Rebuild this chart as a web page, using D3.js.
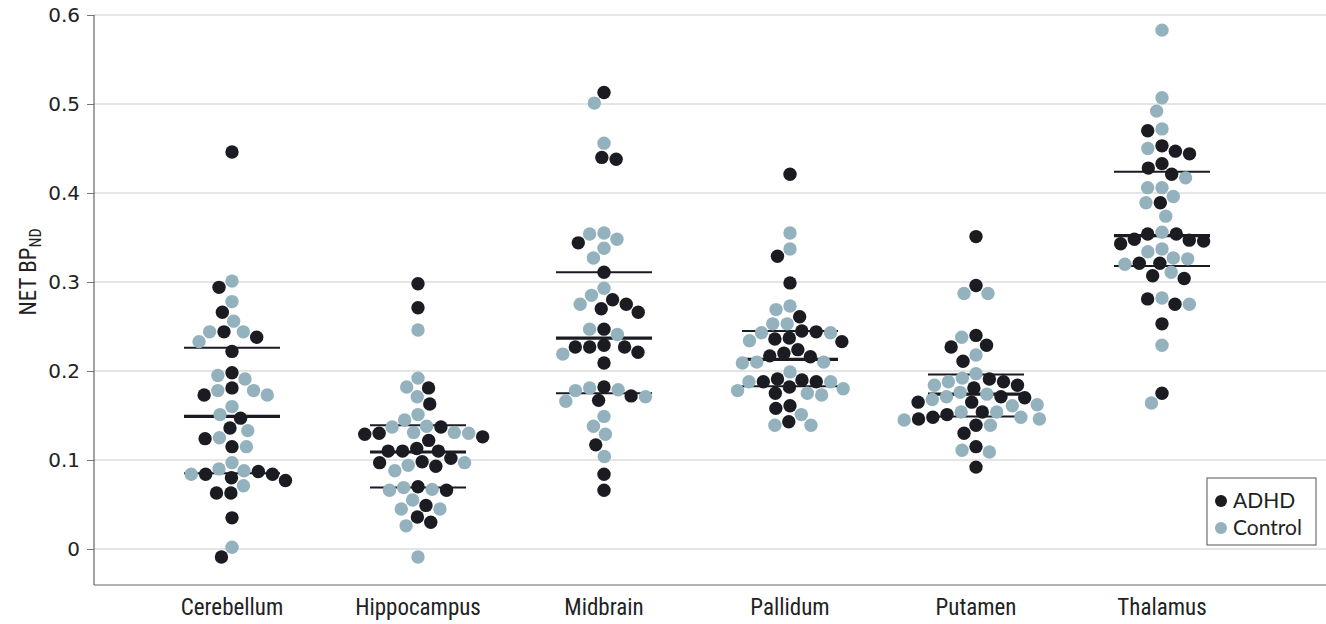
<!DOCTYPE html>
<html>
<head>
<meta charset="utf-8">
<script src="https://cdn.jsdelivr.net/npm/d3@7"></script>
<style>
  html, body { margin: 0; padding: 0; background: #fff; }
  svg { display: block; }
</style>
</head>
<body>
<svg id="chart" width="1326" height="624"></svg>
<script>
// ---------- DATA ----------
const categories = ["Cerebellum", "Hippocampus", "Midbrain", "Pallidum", "Putamen", "Thalamus"];
const groups = ["ADHD", "Control"];
const yTicks = [0, 0.1, 0.2, 0.3, 0.4, 0.5, 0.6];

const cerebellumADHD = [0.446, 0.294, 0.266, 0.238, 0.244, 0.222, 0.198, 0.173, 0.181, 0.147, 0.136, 0.124, 0.115, 0.087, 0.084, 0.084, 0.077, 0.080, 0.063, 0.063, 0.035, -0.009];
const cerebellumControl = [0.301, 0.278, 0.256, 0.244, 0.244, 0.233, 0.191, 0.195, 0.178, 0.178, 0.173, 0.160, 0.151, 0.133, 0.125, 0.115, 0.097, 0.090, 0.084, 0.088, 0.071, 0.002];

const hippocampusADHD = [0.298, 0.271, 0.181, 0.163, 0.137, 0.122, 0.129, 0.126, 0.130, 0.110, 0.110, 0.110, 0.113, 0.102, 0.098, 0.093, 0.097, 0.070, 0.066, 0.049, 0.036, 0.030];
const hippocampusControl = [0.246, 0.192, 0.182, 0.171, 0.151, 0.145, 0.131, 0.137, 0.130, 0.131, 0.138, 0.097, 0.094, 0.088, 0.066, 0.067, 0.069, 0.055, 0.045, 0.045, 0.026, -0.009];

const midbrainADHD = [0.513, 0.438, 0.440, 0.344, 0.311, 0.280, 0.275, 0.266, 0.270, 0.247, 0.227, 0.221, 0.227, 0.227, 0.229, 0.209, 0.172, 0.182, 0.167, 0.117, 0.084, 0.066];
const midbrainControl = [0.501, 0.456, 0.355, 0.348, 0.354, 0.338, 0.327, 0.293, 0.285, 0.275, 0.241, 0.247, 0.219, 0.181, 0.171, 0.166, 0.178, 0.179, 0.149, 0.138, 0.129, 0.104];

const pallidumADHD = [0.421, 0.329, 0.299, 0.261, 0.245, 0.237, 0.233, 0.236, 0.244, 0.224, 0.220, 0.217, 0.216, 0.182, 0.191, 0.190, 0.188, 0.188, 0.175, 0.161, 0.158, 0.143];
const pallidumControl = [0.355, 0.337, 0.273, 0.269, 0.253, 0.253, 0.243, 0.234, 0.243, 0.210, 0.210, 0.209, 0.199, 0.188, 0.188, 0.178, 0.173, 0.175, 0.180, 0.151, 0.139, 0.139];

const putamenADHD = [0.351, 0.296, 0.240, 0.229, 0.227, 0.211, 0.188, 0.191, 0.184, 0.181, 0.165, 0.165, 0.170, 0.171, 0.154, 0.151, 0.146, 0.148, 0.139, 0.130, 0.115, 0.092];
const putamenControl = [0.287, 0.287, 0.238, 0.218, 0.197, 0.192, 0.188, 0.184, 0.176, 0.174, 0.171, 0.168, 0.161, 0.162, 0.148, 0.145, 0.146, 0.154, 0.154, 0.139, 0.111, 0.109];

const thalamusADHD = [0.470, 0.453, 0.447, 0.444, 0.433, 0.428, 0.421, 0.389, 0.354, 0.347, 0.343, 0.354, 0.346, 0.348, 0.321, 0.321, 0.304, 0.307, 0.275, 0.281, 0.253, 0.175];
const thalamusControl = [0.583, 0.507, 0.492, 0.472, 0.450, 0.417, 0.406, 0.406, 0.396, 0.389, 0.374, 0.356, 0.334, 0.337, 0.327, 0.320, 0.326, 0.311, 0.282, 0.275, 0.229, 0.164];

// summary lines (upper quartile, median, lower quartile)
const upperValues  = [0.226, 0.139, 0.311, 0.245, 0.196, 0.424];
const medianValues = [0.149, 0.109, 0.237, 0.213, 0.174, 0.352];
const lowerValues  = [0.085, 0.069, 0.175, 0.183, 0.149, 0.318];

const adhdByCategory = [cerebellumADHD, hippocampusADHD, midbrainADHD, pallidumADHD, putamenADHD, thalamusADHD];
const controlByCategory = [cerebellumControl, hippocampusControl, midbrainControl, pallidumControl, putamenControl, thalamusControl];

// ---------- DRAWING ----------
(function () {
  const colors = { ADHD: "#1b1b22", Control: "#93b2bd" };
  const condensed = "Liberation Sans Narrow, Roboto Condensed, Arial Narrow, sans-serif";
  const svg = d3.select("#chart");
  const W = 1326;
  const mLeft = 94, mTop = 15, mBottom = 585;
  const r = 6.7, spacing = 14.4;

  const y = d3.scaleLinear().domain([-0.04045, 0.6]).range([mBottom, mTop]);
  const x = d3.scalePoint().domain(categories).range([232, 1162]);

  // grid lines
  svg.append("g").selectAll("line").data(yTicks).join("line")
    .attr("x1", mLeft).attr("x2", W)
    .attr("y1", d => y(d)).attr("y2", d => y(d))
    .attr("stroke", "#dcdcdc").attr("stroke-width", 1.5);

  // y axis
  const yAxis = d3.axisLeft(y).tickValues(yTicks).tickSize(7).tickPadding(7)
    .tickFormat(d => d === 0 ? "0" : d3.format(".1f")(d));
  const gy = svg.append("g").attr("transform", `translate(${mLeft},0)`).call(yAxis);
  gy.select(".domain").remove();
  gy.selectAll(".tick line").attr("stroke", "#777").attr("stroke-width", 1);
  gy.selectAll(".tick text").attr("font-family", "DejaVu Sans, sans-serif").attr("font-size", 20).attr("fill", "#222");
  svg.append("line").attr("x1", mLeft).attr("x2", mLeft).attr("y1", mTop).attr("y2", mBottom)
    .attr("stroke", "#666").attr("stroke-width", 1.2);
  svg.append("line").attr("x1", mLeft).attr("x2", W).attr("y1", mBottom).attr("y2", mBottom)
    .attr("stroke", "#666").attr("stroke-width", 1.2);

  // y label
  const yl = svg.append("text")
    .attr("transform", `translate(36,272) rotate(-90)`)
    .attr("text-anchor", "middle")
    .attr("font-family", condensed)
    .attr("font-size", 23).attr("fill", "#222");
  yl.append("tspan").text("NET BP");
  yl.append("tspan").attr("font-size", 16).attr("dy", 5).text("ND");

  // x category labels
  svg.append("g").selectAll("text").data(categories).join("text")
    .attr("x", d => x(d)).attr("y", 615)
    .attr("text-anchor", "middle")
    .attr("font-family", condensed)
    .attr("font-size", 23).attr("fill", "#222")
    .text(d => d);

  // summary lines
  const halfW = 48;
  const lineData = [];
  categories.forEach((c, i) => {
    lineData.push({ c, v: upperValues[i], w: 2 });
    lineData.push({ c, v: medianValues[i], w: 3.2 });
    lineData.push({ c, v: lowerValues[i], w: 2 });
  });
  svg.append("g").selectAll("line").data(lineData).join("line")
    .attr("x1", d => x(d.c) - halfW).attr("x2", d => x(d.c) + halfW)
    .attr("y1", d => y(d.v)).attr("y2", d => y(d.v))
    .attr("stroke", "#1b1b22").attr("stroke-width", d => d.w);

  // beeswarm (dodge) layout per category
  const points = [];
  categories.forEach((c, i) => {
    const pts = [];
    adhdByCategory[i].forEach(v => pts.push({ c, v, g: "ADHD" }));
    controlByCategory[i].forEach(v => pts.push({ c, v, g: "Control" }));
    pts.forEach(p => p.py = y(p.v));
    pts.sort((a, b) => a.py - b.py);
    const placed = [];
    pts.forEach(p => {
      const cands = [0];
      placed.forEach(q => {
        const dy = Math.abs(q.py - p.py);
        if (dy < spacing) {
          const dx = Math.sqrt(spacing * spacing - dy * dy);
          cands.push(q.dx + dx, q.dx - dx);
        }
      });
      cands.sort((a, b) => Math.abs(a) - Math.abs(b) || a - b);
      p.dx = 0;
      for (const cx of cands) {
        const ok = placed.every(q => {
          const ddx = q.dx - cx, ddy = q.py - p.py;
          return ddx * ddx + ddy * ddy >= spacing * spacing - 0.01;
        });
        if (ok) { p.dx = cx; break; }
      }
      placed.push(p);
    });
    points.push(...pts);
  });

  svg.append("g").selectAll("circle").data(points).join("circle")
    .attr("cx", d => x(d.c) + d.dx)
    .attr("cy", d => d.py)
    .attr("r", r)
    .attr("fill", d => colors[d.g]);

  // legend
  const lg = svg.append("g");
  lg.append("rect").attr("x", 1207).attr("y", 478).attr("width", 109).attr("height", 67)
    .attr("fill", "#fff").attr("stroke", "#555").attr("stroke-width", 1);
  groups.forEach((g, i) => {
    lg.append("circle").attr("cx", 1221).attr("cy", 501 + i * 27).attr("r", 6).attr("fill", colors[g]);
    lg.append("text").attr("x", 1233).attr("y", 508 + i * 27)
      .attr("font-family", "Lato, Open Sans, sans-serif").attr("font-size", 21).attr("fill", "#222")
      .text(g);
  });
})();
</script>
</body>
</html>
